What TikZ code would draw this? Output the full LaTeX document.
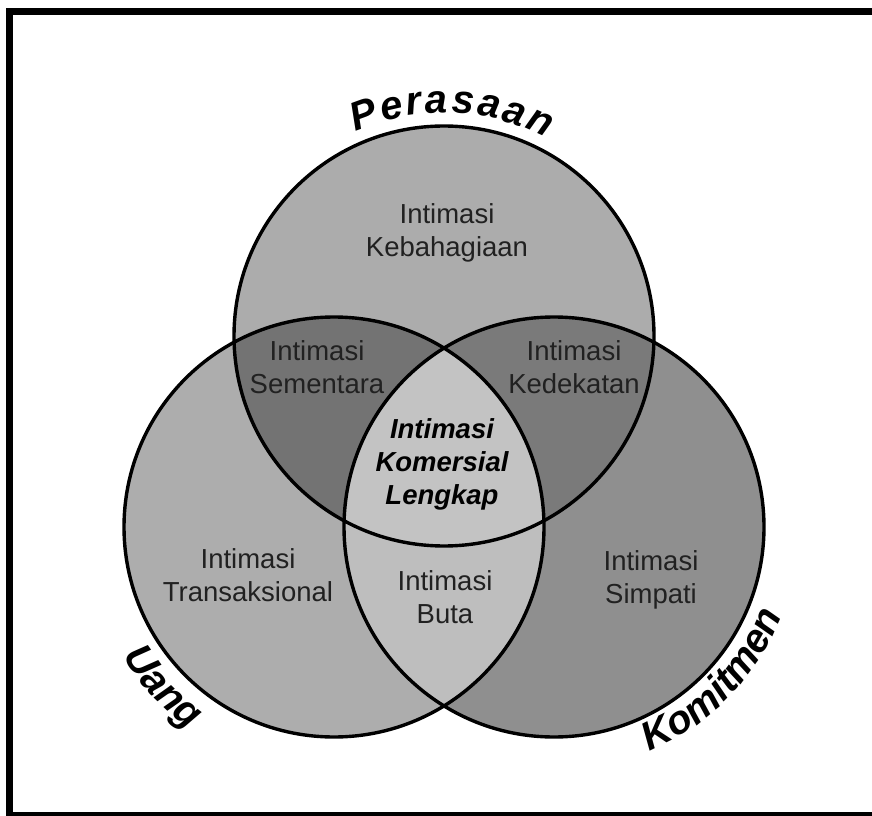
\documentclass[tikz,border=0pt]{standalone}
\usepackage{fontspec}
\setmainfont{Liberation Sans}
\newfontfamily\arcfont{Liberation Sans}[WordSpace=0.26]
\usetikzlibrary{decorations.text}
\definecolor{topc}{gray}{0.675}
\definecolor{leftc}{gray}{0.68}
\definecolor{rightc}{gray}{0.56}
\definecolor{tlc}{gray}{0.45}
\definecolor{trc}{gray}{0.48}
\definecolor{lrc}{gray}{0.745}
\definecolor{cenc}{gray}{0.765}
\definecolor{txt}{gray}{0.13}
\newcommand\arclbl{\arcfont\bfseries\itshape\fontsize{40}{44}\selectfont}
\begin{document}
\begin{tikzpicture}[x=1pt,y=1pt,
  lbl/.style={font=\fontsize{27.5}{33}\selectfont, text=txt, align=center, inner sep=0pt},
  biglbl/.style={font=\bfseries\itshape\fontsize{27.5}{33}\selectfont, text=black, align=center, inner sep=0pt},
  ring/.style={draw=black, line width=3.4pt}]
\useasboundingbox (0,0) rectangle (872,815);
\fill[white] (0,0) rectangle (872,815);
\draw[line width=7pt] (9.5,-0.5) rectangle (885,803);
\coordinate (T) at (444,479);
\coordinate (L) at (334,288);
\coordinate (R) at (554,288);
\def\rad{210}
\fill[topc] (T) circle[radius=\rad];
\fill[leftc] (L) circle[radius=\rad];
\fill[rightc] (R) circle[radius=\rad];
\begin{scope}\clip (T) circle[radius=\rad]; \fill[tlc] (L) circle[radius=\rad]; \end{scope}
\begin{scope}\clip (T) circle[radius=\rad]; \fill[trc] (R) circle[radius=\rad]; \end{scope}
\begin{scope}\clip (L) circle[radius=\rad]; \fill[lrc] (R) circle[radius=\rad]; \end{scope}
\begin{scope}\clip (T) circle[radius=\rad]; \clip (L) circle[radius=\rad]; \fill[cenc] (R) circle[radius=\rad]; \end{scope}
\draw[ring] (T) circle[radius=\rad];
\draw[ring] (L) circle[radius=\rad];
\draw[ring] (R) circle[radius=\rad];
\node[lbl] (keb) at (447,582) {Intimasi\\Kebahagiaan};
\node[lbl] (sem) at (317,448.3) {Intimasi\\Sementara};
\node[lbl] (ked) at (574,448.3) {Intimasi\\Kedekatan};
\node[biglbl] (kom) at (442,351) {Intimasi\\Komersial\\Lengkap};
\node[lbl] (tra) at (248,240) {Intimasi\\Transaksional};
\node[lbl] (but) at (445,218.3) {Intimasi\\Buta};
\node[lbl] (sim) at (651,235.5) {Intimasi\\Simpati};
\path[decorate, decoration={text along path, text={|\arclbl|P e r a s a a n}, text align=center}]
  ([shift={(148:223)}]T) arc[start angle=148, end angle=28, radius=223];
\path[decorate, decoration={text along path, text={|\arclbl|Uang}, text align=center}]
  ([shift={(173:248)}]L) arc[start angle=173, end angle=273, radius=248];
\path[decorate, decoration={text along path, text={|\arclbl|Komitmen}, text align=center}]
  ([shift={(266:244)}]R) arc[start angle=266, end angle=366, radius=244];
\end{tikzpicture}
\end{document}
